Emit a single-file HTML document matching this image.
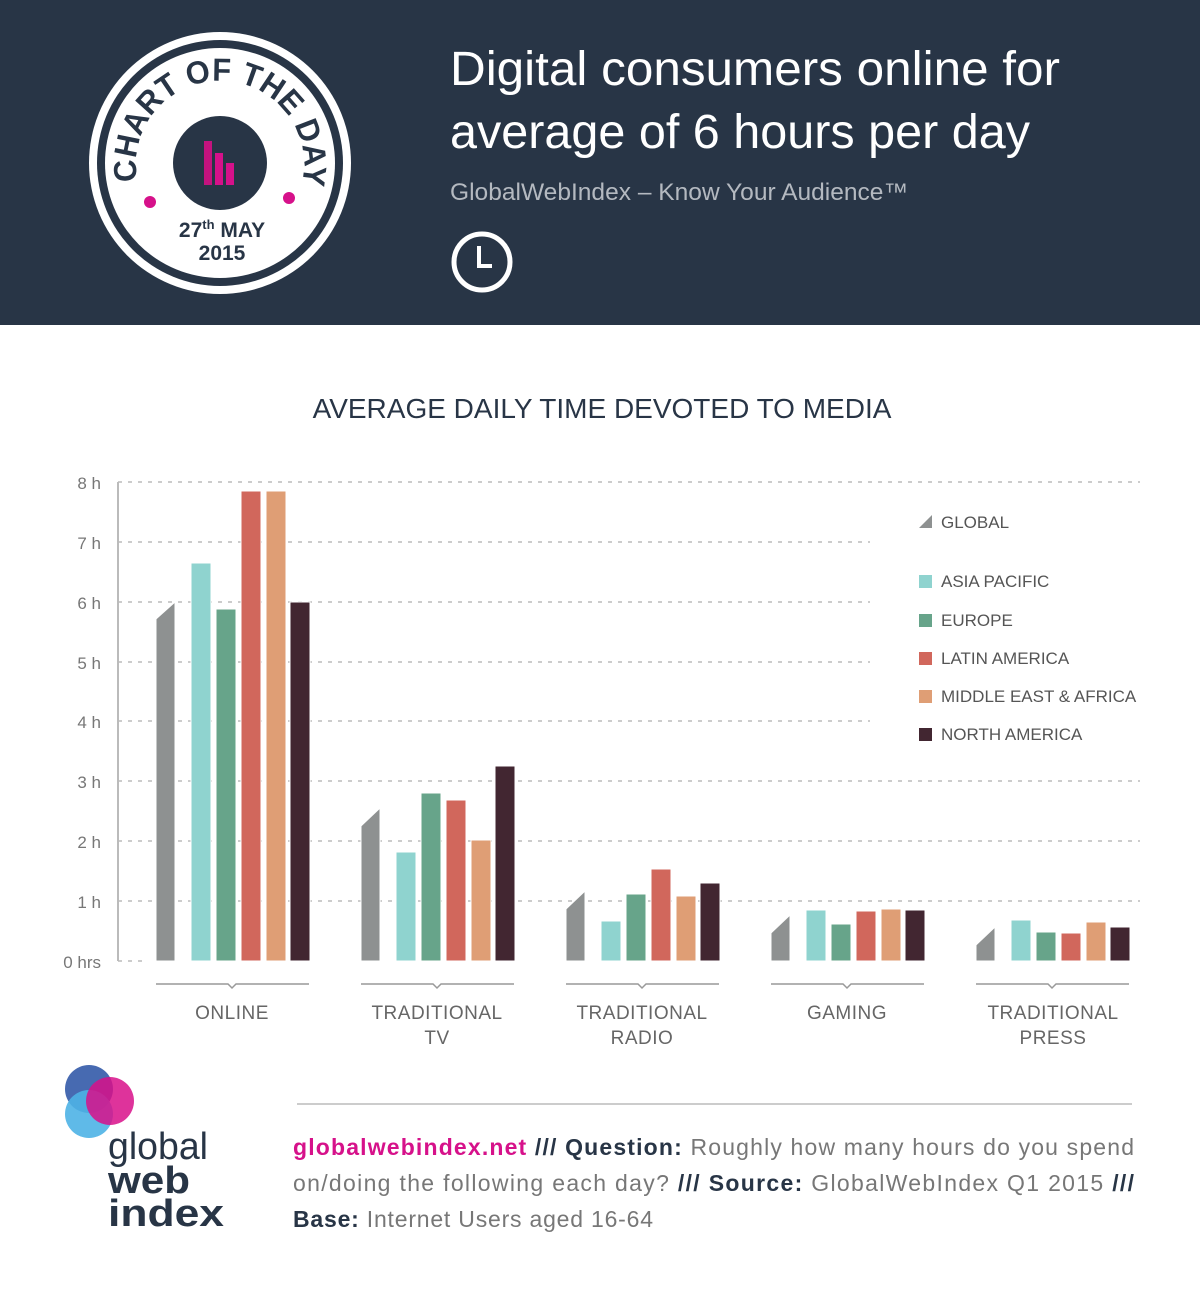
<!DOCTYPE html>
<html><head><meta charset="utf-8"><style>
html,body{margin:0;padding:0;background:#fff;}
svg{display:block;font-family:"Liberation Sans",sans-serif;}
</style></head><body>
<svg width="1200" height="1304" viewBox="0 0 1200 1304" xmlns="http://www.w3.org/2000/svg">
<rect x="0" y="0" width="1200" height="325" fill="#283546"/>
<!-- badge -->
<circle cx="220" cy="163" r="131" fill="#fff"/>
<circle cx="220" cy="163" r="123" fill="#283546"/>
<circle cx="220" cy="163" r="115" fill="#fff"/>
<circle cx="220" cy="163" r="47" fill="#283546"/>
<rect x="204" y="141" width="8" height="44" fill="#c3137e"/>
<rect x="215" y="153" width="8" height="32" fill="#d6118a"/>
<rect x="226" y="163" width="8" height="22" fill="#d6118a"/>
<circle cx="150" cy="202" r="6" fill="#d6118a"/>
<circle cx="289" cy="198" r="6" fill="#d6118a"/>
<defs><path id="arc" d="M 138 183 A 84 84 0 1 1 302 183"/></defs>
<text font-size="32" font-weight="bold" fill="#283546"><textPath href="#arc" startOffset="2" textLength="300" lengthAdjust="spacingAndGlyphs">CHART OF THE DAY</textPath></text>
<text x="222" y="237" font-size="21" font-weight="bold" fill="#283546" text-anchor="middle">27<tspan font-size="13" dy="-8">th</tspan><tspan dy="8"> MAY</tspan></text>
<text x="222" y="260" font-size="21" font-weight="bold" fill="#283546" text-anchor="middle">2015</text>
<!-- title -->
<text x="450" y="85" font-size="48" fill="#fff" textLength="610" lengthAdjust="spacingAndGlyphs">Digital consumers online for</text>
<text x="450" y="148" font-size="48" fill="#fff" textLength="580" lengthAdjust="spacingAndGlyphs">average of 6 hours per day</text>
<text x="450" y="200" font-size="24" fill="#b4b9c0" textLength="458" lengthAdjust="spacingAndGlyphs">GlobalWebIndex – Know Your Audience™</text>
<circle cx="482" cy="262" r="28" fill="none" stroke="#fff" stroke-width="5"/>
<path d="M479 246 V266 H492" fill="none" stroke="#fff" stroke-width="4"/>
<!-- chart title -->
<text x="602" y="418" font-size="28" fill="#283546" text-anchor="middle">AVERAGE DAILY TIME DEVOTED TO MEDIA</text>
<!-- grid -->
<g stroke="#bbb" stroke-width="1.5" stroke-dasharray="4,6">
<line x1="118" y1="482" x2="1140" y2="482"/>
<line x1="118" y1="542" x2="870" y2="542"/>
<line x1="118" y1="602" x2="870" y2="602"/>
<line x1="118" y1="662" x2="870" y2="662"/>
<line x1="118" y1="721" x2="870" y2="721"/>
<line x1="118" y1="781" x2="1140" y2="781"/>
<line x1="118" y1="841" x2="1140" y2="841"/>
<line x1="118" y1="901" x2="1140" y2="901"/>
<line x1="118" y1="961" x2="145" y2="961"/>
</g>
<line x1="118" y1="482" x2="118" y2="961" stroke="#bbb" stroke-width="2"/>
<g font-size="17" fill="#777" text-anchor="end">
<text x="101" y="489">8 h</text><text x="101" y="549">7 h</text><text x="101" y="609">6 h</text>
<text x="101" y="669">5 h</text><text x="101" y="728">4 h</text><text x="101" y="788">3 h</text>
<text x="101" y="848">2 h</text><text x="101" y="908">1 h</text><text x="101" y="968">0 hrs</text>
</g>
<!-- bars -->
<g stroke="#fff" stroke-width="1">
<polygon points="156,961 156,619 175,602 175,961" fill="#8e9191"/>
<rect x="191" y="563" width="20" height="398" fill="#8fd3cf"/>
<rect x="216" y="609" width="20" height="352" fill="#67a48a"/>
<rect x="241" y="491" width="20" height="470" fill="#d1675c"/>
<rect x="266" y="491" width="20" height="470" fill="#df9e75"/>
<rect x="290" y="602" width="20" height="359" fill="#422631"/>
<polygon points="361,961 361,826 380,808 380,961" fill="#8e9191"/>
<rect x="396" y="852" width="20" height="109" fill="#8fd3cf"/>
<rect x="421" y="793" width="20" height="168" fill="#67a48a"/>
<rect x="446" y="800" width="20" height="161" fill="#d1675c"/>
<rect x="471" y="840" width="20" height="121" fill="#df9e75"/>
<rect x="495" y="766" width="20" height="195" fill="#422631"/>
<polygon points="566,961 566,909 585,891 585,961" fill="#8e9191"/>
<rect x="601" y="921" width="20" height="40" fill="#8fd3cf"/>
<rect x="626" y="894" width="20" height="67" fill="#67a48a"/>
<rect x="651" y="869" width="20" height="92" fill="#d1675c"/>
<rect x="676" y="896" width="20" height="65" fill="#df9e75"/>
<rect x="700" y="883" width="20" height="78" fill="#422631"/>
<polygon points="771,961 771,933 790,915 790,961" fill="#8e9191"/>
<rect x="806" y="910" width="20" height="51" fill="#8fd3cf"/>
<rect x="831" y="924" width="20" height="37" fill="#67a48a"/>
<rect x="856" y="911" width="20" height="50" fill="#d1675c"/>
<rect x="881" y="909" width="20" height="52" fill="#df9e75"/>
<rect x="905" y="910" width="20" height="51" fill="#422631"/>
<polygon points="976,961 976,945 995,927 995,961" fill="#8e9191"/>
<rect x="1011" y="920" width="20" height="41" fill="#8fd3cf"/>
<rect x="1036" y="932" width="20" height="29" fill="#67a48a"/>
<rect x="1061" y="933" width="20" height="28" fill="#d1675c"/>
<rect x="1086" y="922" width="20" height="39" fill="#df9e75"/>
<rect x="1110" y="927" width="20" height="34" fill="#422631"/>
</g>
<g fill="none" stroke="#999" stroke-width="1.5">
<path d="M156 984 H228 L232 988 L236 984 H309"/>
<path d="M361 984 H433 L437 988 L441 984 H514"/>
<path d="M566 984 H638 L642 988 L646 984 H719"/>
<path d="M771 984 H843 L847 988 L851 984 H924"/>
<path d="M976 984 H1048 L1052 988 L1056 984 H1129"/>
</g>
<g font-size="19" fill="#666" text-anchor="middle" letter-spacing="0.5">
<text x="232" y="1019">ONLINE</text>
<text x="437" y="1019">TRADITIONAL</text><text x="437" y="1044">TV</text>
<text x="642" y="1019">TRADITIONAL</text><text x="642" y="1044">RADIO</text>
<text x="847" y="1019">GAMING</text>
<text x="1053" y="1019">TRADITIONAL</text><text x="1053" y="1044">PRESS</text>
</g>
<polygon points="919,528 932,528 932,515" fill="#8e9191"/>
<rect x="919" y="575" width="13" height="13" fill="#8fd3cf"/>
<rect x="919" y="614" width="13" height="13" fill="#67a48a"/>
<rect x="919" y="652" width="13" height="13" fill="#d1675c"/>
<rect x="919" y="690" width="13" height="13" fill="#df9e75"/>
<rect x="919" y="728" width="13" height="13" fill="#422631"/>
<g font-size="17" fill="#555">
<text x="941" y="528">GLOBAL</text>
<text x="941" y="587">ASIA PACIFIC</text>
<text x="941" y="626">EUROPE</text>
<text x="941" y="664">LATIN AMERICA</text>
<text x="941" y="702">MIDDLE EAST &amp; AFRICA</text>
<text x="941" y="740">NORTH AMERICA</text>
</g>
<!-- logo -->
<circle cx="89" cy="1089" r="24" fill="#3d62ad" opacity="0.95"/>
<circle cx="89" cy="1114" r="24" fill="#4eb3e6" opacity="0.9"/>
<circle cx="110" cy="1101" r="24" fill="#d80f89" opacity="0.85"/>
<text x="108" y="1159" font-size="38" fill="#283546" textLength="100" lengthAdjust="spacingAndGlyphs">global</text>
<text x="108" y="1193" font-size="38" font-weight="bold" fill="#283546" textLength="82" lengthAdjust="spacingAndGlyphs">web</text>
<text x="108" y="1226" font-size="38" font-weight="bold" fill="#283546" textLength="116" lengthAdjust="spacingAndGlyphs">index</text>
<!-- footer -->
<line x1="297" y1="1104" x2="1132" y2="1104" stroke="#bbb" stroke-width="1.5"/>
<g font-size="23" fill="#777">
<text x="293" y="1155" textLength="841" lengthAdjust="spacing"><tspan fill="#d6118a" font-weight="bold">globalwebindex.net</tspan><tspan fill="#283546" font-weight="bold"> /// Question:</tspan> Roughly how many hours do you spend</text>
<text x="293" y="1191" textLength="841" lengthAdjust="spacing">on/doing the following each day? <tspan fill="#283546" font-weight="bold">/// Source:</tspan> GlobalWebIndex Q1 2015 <tspan fill="#283546" font-weight="bold">///</tspan></text>
<text x="293" y="1227" textLength="360" lengthAdjust="spacing"><tspan fill="#283546" font-weight="bold">Base:</tspan> Internet Users aged 16-64</text>
</g>
</svg>
</body></html>
